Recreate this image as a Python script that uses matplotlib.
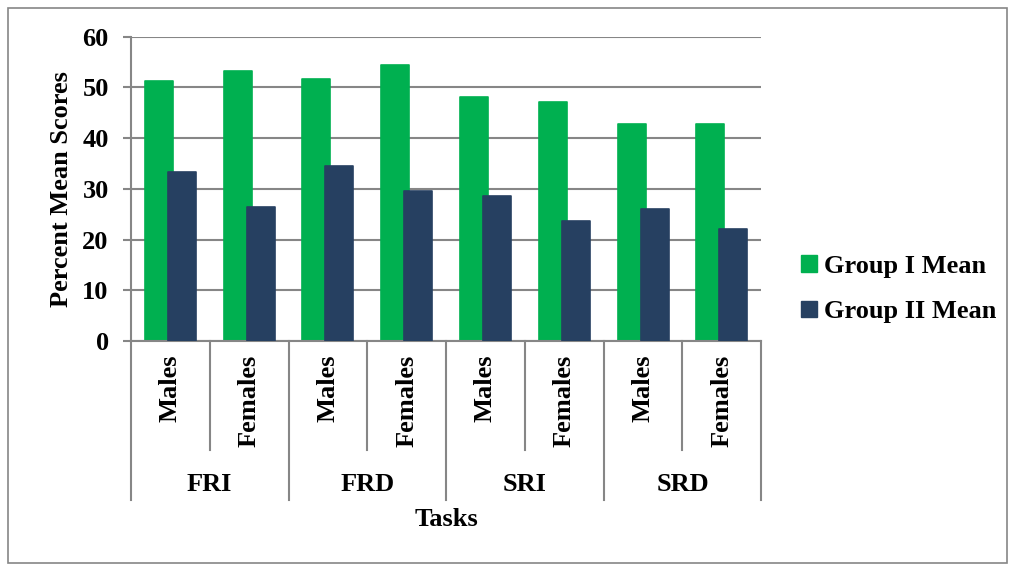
import matplotlib.pyplot as plt
from matplotlib.patches import Rectangle, Patch
import matplotlib.transforms as mtransforms

plt.rcParams['font.family'] = 'Liberation Serif'
plt.rcParams['font.weight'] = 'bold'

tasks = ["FRI", "FRD", "SRI", "SRD"]
genders = ["Males", "Females"]
group1 = [51.3, 53.3, 51.6, 54.5, 48.2, 47.1, 42.8, 42.8]
group2 = [33.4, 26.5, 34.6, 29.6, 28.5, 23.6, 26.1, 22.0]

green = "#00B050"
navy = "#264061"
grey = "#868686"

fig = plt.figure(figsize=(10.15, 5.69), dpi=100)
ax = fig.add_axes([0.129, 0.4007, 0.621, 0.5348])

x = list(range(len(group1)))
off = 0.146
w = 0.356
ax.bar([i - off for i in x], group1, width=w, color=green, edgecolor=green,
       linewidth=1.2, joinstyle='round', zorder=2, label="Group I Mean")
ax.bar([i + off for i in x], group2, width=w, color=navy, edgecolor=navy,
       linewidth=1.2, joinstyle='round', zorder=3, label="Group II Mean")

ax.set_xlim(-0.5, len(x) - 0.5)
ax.set_ylim(0, 60)
ax.set_yticks(range(0, 61, 10))
ax.yaxis.grid(True, color=grey, linewidth=1.5)
ax.set_axisbelow(True)
for s in ["top", "right"]:
    ax.spines[s].set_visible(False)
ax.spines["left"].set_color(grey)
ax.spines["bottom"].set_color(grey)
ax.spines["left"].set_linewidth(1.5)
ax.spines["bottom"].set_linewidth(1.5)
ax.tick_params(axis='y', length=6, width=1.5, color=grey, labelsize=19, pad=10)
ax.set_xticks([])

ax.set_ylabel("Percent Mean Scores", fontsize=19, fontweight='bold')
ax.yaxis.set_label_coords(-0.092, 0.5)

# multi-level category axis
trans = mtransforms.blended_transform_factory(ax.transData, ax.transAxes)
for i in range(len(x) + 1):
    bottom = -0.522 if i % 2 == 0 else -0.358
    ax.plot([i - 0.5, i - 0.5], [0, bottom], color=grey, linewidth=1.5,
            transform=trans, clip_on=False)
for i in x:
    ax.text(i, -0.046, genders[i % 2], rotation=90, ha='center', va='top',
            fontsize=19, transform=trans)
for j, t in enumerate(tasks):
    ax.text(2 * j + 0.5, -0.473, t, ha='center', va='center',
            fontsize=19, transform=trans)
ax.text(0.5, -0.588, "Tasks", ha='center', va='center', fontsize=19,
        transform=ax.transAxes)

handles = [Patch(facecolor=green, edgecolor=green, joinstyle='round'),
           Patch(facecolor=navy, edgecolor=navy, joinstyle='round')]
fig.legend(handles, ["Group I Mean", "Group II Mean"], loc='center left',
           bbox_to_anchor=(0.766, 0.492), frameon=False, fontsize=19,
           handlelength=0.6, handleheight=0.6, handletextpad=0.25,
           labelspacing=0.85)

fig.patches.append(Rectangle((8 / 1015, 6 / 569), 999 / 1015, 555 / 569,
                             transform=fig.transFigure, fill=False,
                             edgecolor=grey, linewidth=1.2))

fig.savefig("out.png", dpi=100)
